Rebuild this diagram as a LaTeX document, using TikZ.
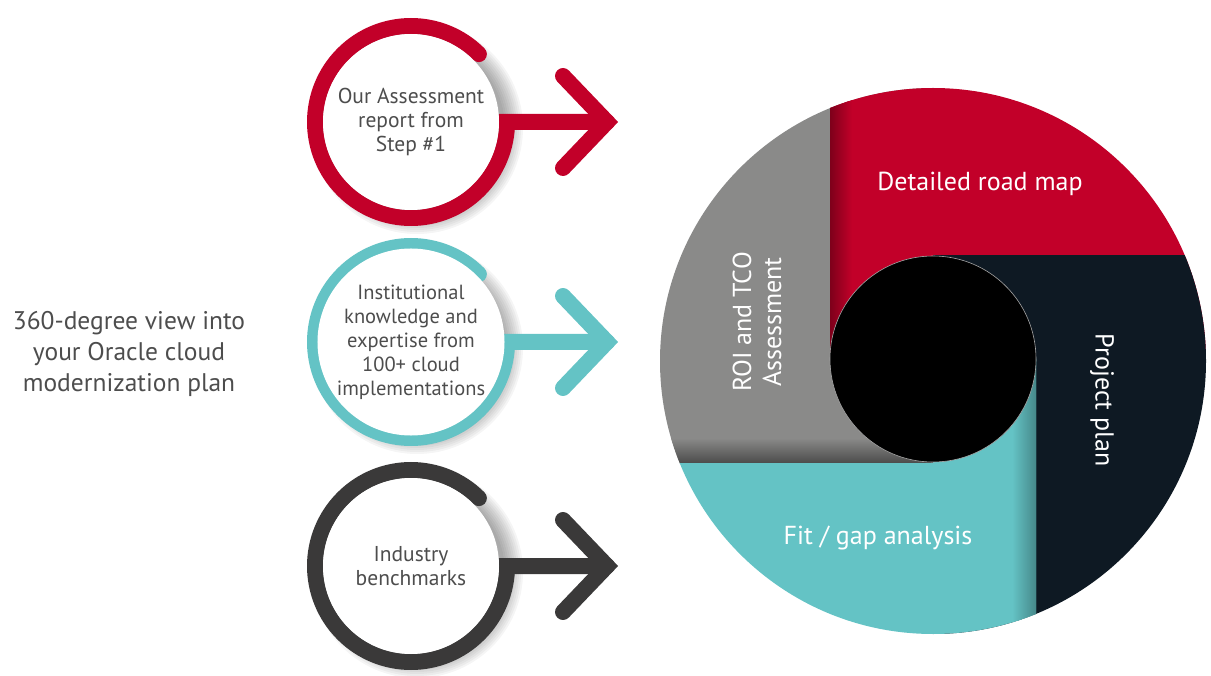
\documentclass[tikz,border=0pt]{standalone}
\usepackage{fontspec}
\setmainfont{PT Sans}
\usetikzlibrary{calc}
\definecolor{cred}{HTML}{C20029}
\definecolor{cteal}{HTML}{64C3C5}
\definecolor{cdark}{HTML}{3A3939}
\definecolor{cgray}{HTML}{8A8A89}
\definecolor{cnavy}{HTML}{0E1923}
\definecolor{ctext}{HTML}{4D4D4D}
\begin{document}
\begin{tikzpicture}[x=1pt,y=1pt,
  ringtext/.style={circle,minimum size=176pt,fill=white,inner sep=0pt,align=center,text=ctext,font=\fontsize{21.5}{24}\selectfont},
  ringline/.style={line width=16pt,line cap=round,line join=miter},
  pielabel/.style={text=white,align=center,font=\fontsize{26}{30}\selectfont},
  sidetext/.style={text=ctext,align=center,font=\fontsize{25.5}{31}\selectfont}]
\useasboundingbox (0,-676) rectangle (1211,0);

% ---- soft shadows behind the three small circles
\foreach \cy in {122,342,566}{
  \foreach \k in {0,...,9}{
    \fill[black,opacity=0.04] (417,-\cy-6) circle[radius=88+\k*2];
  }
}

% ---- arrow tips
\coordinate (t1) at (607,-122); \coordinate (a1) at (563,-76);  \coordinate (b1) at (563,-168);
\coordinate (t2) at (607,-342); \coordinate (a2) at (563,-296); \coordinate (b2) at (563,-388);
\coordinate (t3) at (607,-566); \coordinate (a3) at (563,-520); \coordinate (b3) at (563,-612);

% ---- rings with arrows
\draw[ringline,cred]  ($(411,-122)+(45:96)$) arc[start angle=45,end angle=360,radius=96] -- (t1);
\draw[ringline,cred]  (a1) -- (t1) -- (b1);
\draw[ringline,cteal] ($(411,-342)+(45:96)$) arc[start angle=45,end angle=360,radius=96] -- (t2);
\draw[ringline,cteal] (a2) -- (t2) -- (b2);
\draw[ringline,cdark] ($(411,-566)+(45:96)$) arc[start angle=45,end angle=360,radius=96] -- (t3);
\draw[ringline,cdark] (a3) -- (t3) -- (b3);

% ---- small circles with text
\node[ringtext] (c1) at (411,-122) {Our Assessment\\report from\\Step \#1};
\node[ringtext,font=\fontsize{20.5}{24}\selectfont] (c2) at (411,-342) {Institutional\\knowledge and\\expertise from\\100+ cloud\\implementations};
\node[ringtext] (c3) at (411,-566) {Industry\\benchmarks};

% ---- left text
\node[sidetext] (intro) at (129,-354) {360-degree view into\\your Oracle cloud\\modernization plan};

% ---- big pinwheel
\begin{scope}
  \clip (933,-361) circle[radius=273];
  \fill[cgray] (600,0) rectangle (933,-463);
  \shade[top color=cgray,bottom color=cgray!55!black] (600,-438) rectangle (933,-463);
  \fill[cred] (830,0) rectangle (1250,-359);
  \shade[left color=cred!65!black,right color=cred] (830,0) rectangle (852,-359);
  \fill[cnavy] (933,-255) rectangle (1250,-700);
  \fill[cteal] (600,-463) -- (933,-463) -- (933,-359) -- (1036,-359) -- (1036,-700) -- (600,-700) -- cycle;
  \shade[left color=cteal,right color=cteal!70!black] (1012,-359) rectangle (1036,-700);
\end{scope}
\fill[black,draw=gray!70,line width=0.6pt] (933,-359) circle[radius=103];

\node[pielabel] (road) at (980,-184) {Detailed road map};
\node[pielabel,rotate=90] (roi) at (757,-322) {ROI and TCO\\Assessment};
\node[pielabel,rotate=-90] (proj) at (1102,-400) {Project plan};
\node[pielabel] (fit) at (878,-538) {Fit / gap analysis};
\end{tikzpicture}
\end{document}
